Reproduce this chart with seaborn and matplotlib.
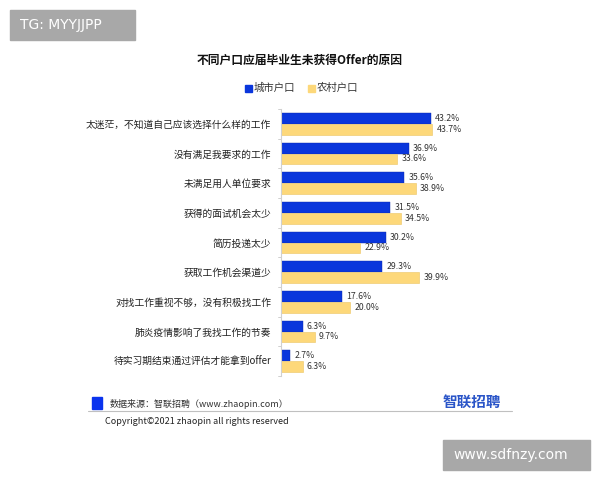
import matplotlib
matplotlib.use("Agg")
import matplotlib.pyplot as plt
import seaborn as sns
import pandas as pd
from matplotlib.patches import Rectangle
from matplotlib.lines import Line2D

categories = [
    "太迷茫，不知道自己应该选择什么样的工作",
    "没有满足我要求的工作",
    "未满足用人单位要求",
    "获得的面试机会太少",
    "简历投递太少",
    "获取工作机会渠道少",
    "对找工作重视不够，没有积极找工作",
    "肺炎疫情影响了我找工作的节奏",
    "待实习期结束通过评估才能拿到offer",
]
city = [43.2, 36.9, 35.6, 31.5, 30.2, 29.3, 17.6, 6.3, 2.7]
rural = [43.7, 33.6, 38.9, 34.5, 22.9, 39.9, 20.0, 9.7, 6.3]
series = ["城市户口", "农村户口"]
title = "不同户口应届毕业生未获得Offer的原因"

sns.set_theme(style="white")
plt.rcParams['font.family'] = ['Noto Sans CJK SC', 'DejaVu Sans']

df = pd.DataFrame({
    "cat": categories * 2,
    "val": city + rural,
    "ser": [series[0]] * len(categories) + [series[1]] * len(categories),
})

blue = "#0a36dc"
yellow = "#fdd87a"

fig = plt.figure(figsize=(6, 4.8), dpi=100)
ax = fig.add_axes([281/600, 1-376/480, (520-281)/600, (376-109)/480])
sns.barplot(data=df, y="cat", x="val", hue="ser", orient="h",
            palette=[blue, yellow], saturation=1, width=0.72, ax=ax, legend=False)
for i, p in enumerate(ax.patches):
    if i >= len(categories):
        p.set_edgecolor("#ecc463")
        p.set_linewidth(0.4)
    else:
        p.set_edgecolor("#0a2aa8")
        p.set_linewidth(0.3)
ax.set_xlim(0, 69)
ax.set_ylim(len(categories) - 0.5, -0.5)
ax.set_xlabel("")
ax.set_ylabel("")
ax.set_xticks([])
for s in ["top", "right", "bottom"]:
    ax.spines[s].set_visible(False)
ax.spines["left"].set_color("#d0d0d0")
ax.spines["left"].set_linewidth(0.8)
ax.set_yticks(range(len(categories)))
ax.set_yticklabels(categories, fontsize=7, color="#222222")
ax.tick_params(axis="y", length=0, pad=7)
# small ticks between groups
for k in range(len(categories) + 1):
    ax.plot([-0.8, 0], [k - 0.5, k - 0.5], color="#c8c8c8", lw=0.6, clip_on=False)

for cont in ax.containers:
    ax.bar_label(cont, labels=[f"{v:.1f}%" for v in cont.datavalues],
                 padding=3, fontsize=6.3, color="#333333")

fig.text(0.5, 1-60/480, title, ha="center", va="center", fontsize=8.5,
         fontweight="bold", color="#111111")
# legend
fig.patches.append(Rectangle((245/600, 1-92/480), 7/600, 7/480, color=blue,
                             transform=fig.transFigure))
fig.text(254/600, 1-88/480, series[0], va="center", fontsize=7.5, color="#333333")
fig.patches.append(Rectangle((308/600, 1-92/480), 7/600, 7/480, color=yellow,
                             transform=fig.transFigure))
fig.text(317/600, 1-88/480, series[1], va="center", fontsize=7.5, color="#333333")

# watermark top-left
fig.patches.append(Rectangle((10/600, 1-40/480), 125/600, 30/480, color="#a8a8a8",
                             transform=fig.transFigure))
fig.text(20/600, 1-25/480, "TG: MYYJJPP", va="center", fontsize=10, color="white",
         family=["DejaVu Sans"])
# watermark bottom-right
fig.patches.append(Rectangle((443/600, 1-470/480), 147/600, 30/480, color="#a8a8a8",
                             transform=fig.transFigure))
fig.text(453/600, 1-455/480, "www.sdfnzy.com", va="center", fontsize=10, color="white",
         family=["DejaVu Sans"])

# footer
fig.patches.append(Rectangle((92/600, 1-409/480), 10/600, 12/480, color="#0a33ee",
                             transform=fig.transFigure))
fig.text(110/600, 1-404/480, "数据来源：智联招聘（www.zhaopin.com）", va="center",
         fontsize=6.5, color="#333333")
fig.lines.append(Line2D([88/600, 512/600], [1-411/480, 1-411/480], color="#c0c0c0",
                        lw=0.8, transform=fig.transFigure))
fig.text(105/600, 1-421/480, "Copyright©2021 zhaopin all rights reserved", va="center",
         fontsize=6.5, color="#222222")
fig.text(443/600, 1-402/480, "智联招聘", va="center", fontsize=10.5, fontweight="bold",
         color="#2a55c8")

fig.savefig("out.png", dpi=100)
